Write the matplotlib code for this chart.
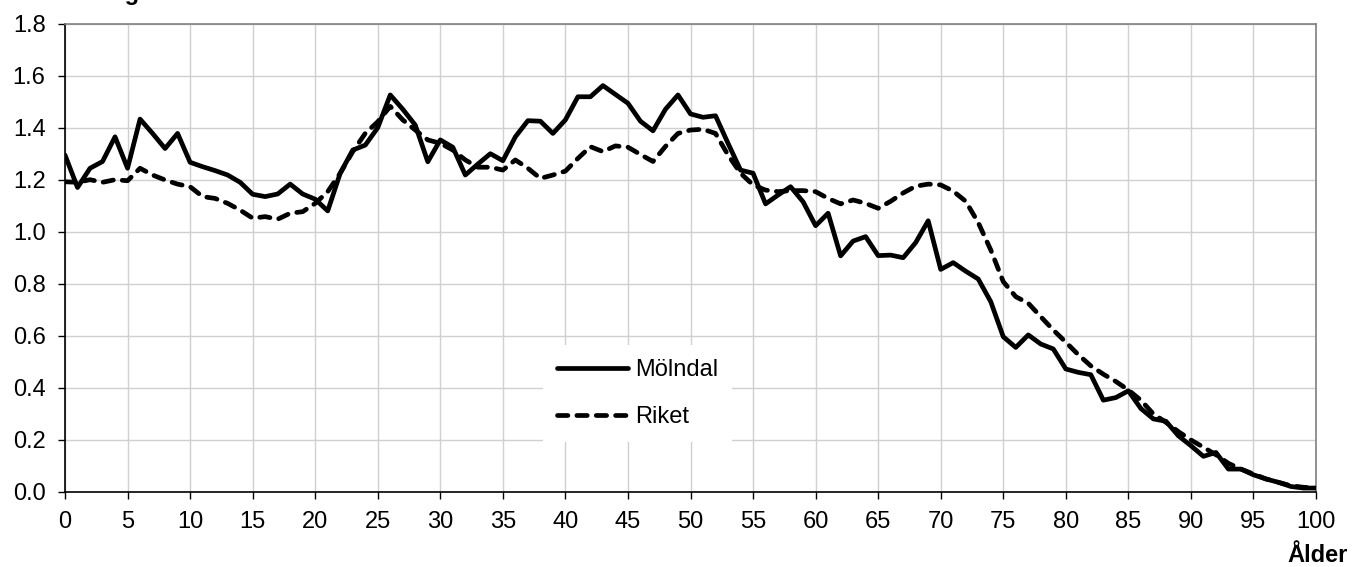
import numpy as np
import matplotlib.pyplot as plt
from matplotlib.ticker import FormatStrFormatter

plt.rcParams['font.family'] = ['Liberation Sans', 'DejaVu Sans']

ages = list(range(0, 101))

molndal = [
    1.295, 1.17, 1.244, 1.27, 1.365, 1.244, 1.433, 1.378, 1.32, 1.378,
    1.267, 1.25, 1.235, 1.218, 1.19, 1.144, 1.135, 1.145, 1.183, 1.145,
    1.125, 1.08, 1.225, 1.314, 1.333, 1.40, 1.526, 1.471, 1.41, 1.269,
    1.353, 1.325, 1.218, 1.26, 1.30, 1.273, 1.365, 1.427, 1.425, 1.378,
    1.43, 1.519, 1.519, 1.562, 1.528, 1.494, 1.425, 1.388, 1.471, 1.526,
    1.453, 1.44, 1.446, 1.34, 1.237, 1.225, 1.107, 1.141, 1.173, 1.115,
    1.023, 1.071, 0.907, 0.964, 0.981, 0.908, 0.91, 0.90, 0.958, 1.042,
    0.855, 0.881, 0.848, 0.818, 0.731, 0.596, 0.555, 0.603, 0.568, 0.549,
    0.472, 0.459, 0.45, 0.352, 0.362, 0.388, 0.32, 0.28, 0.271, 0.215,
    0.177, 0.136, 0.151, 0.087, 0.087, 0.065, 0.049, 0.036, 0.02, 0.014,
    0.014,
]

riket = [
    1.192, 1.19, 1.20, 1.19, 1.20, 1.196, 1.244, 1.218, 1.199, 1.183,
    1.173, 1.135, 1.128, 1.109, 1.083, 1.052, 1.058, 1.048, 1.071, 1.077,
    1.109, 1.154, 1.225, 1.308, 1.378, 1.423, 1.482, 1.43, 1.391, 1.353,
    1.34, 1.314, 1.276, 1.248, 1.248, 1.237, 1.276, 1.244, 1.205, 1.218,
    1.233, 1.282, 1.327, 1.308, 1.33, 1.325, 1.297, 1.27, 1.328, 1.378,
    1.391, 1.394, 1.378, 1.295, 1.225, 1.18, 1.16, 1.154, 1.158, 1.158,
    1.154, 1.128, 1.107, 1.122, 1.109, 1.09, 1.117, 1.149, 1.175, 1.183,
    1.18, 1.156, 1.117, 1.035, 0.93, 0.808, 0.75, 0.725, 0.673, 0.622,
    0.575, 0.527, 0.484, 0.452, 0.424, 0.391, 0.352, 0.299, 0.267, 0.231,
    0.199, 0.171, 0.142, 0.109, 0.087, 0.068, 0.049, 0.036, 0.023, 0.017,
    0.014,
]

fig = plt.figure(figsize=(13.52, 5.67), dpi=100)
ax = fig.add_axes([65 / 1352, 1 - 491.7 / 567, (1316 - 65) / 1352, (491.7 - 23.7) / 567])

ax.plot(ages, molndal, color='black', lw=3.4, label='Mölndal',
        solid_capstyle='round', solid_joinstyle='round', zorder=3)
ax.plot(ages, riket, color='black', lw=3.4, label='Riket', dashes=(2.2, 1.9),
        dash_capstyle='round', dash_joinstyle='round', zorder=3)

ax.set_xlim(0, 100)
ax.set_ylim(0, 1.8)
ax.set_xticks(range(0, 101, 5))
ax.set_yticks(np.arange(0, 1.81, 0.2))
ax.yaxis.set_major_formatter(FormatStrFormatter('%.1f'))
ax.grid(True, color='#d0d0d0', lw=1)
ax.set_axisbelow(True)
ax.tick_params(direction='out', length=5, width=1, color='black', labelsize=17,
               pad=9)

ax.spines['left'].set_color('black')
ax.spines['bottom'].set_color('black')
ax.spines['top'].set_color('#808080')
ax.spines['right'].set_color('#808080')
for s in ax.spines.values():
    s.set_linewidth(1.2)

leg = ax.legend(loc='upper left', bbox_to_anchor=(543 / 1352, 1 - 345 / 567),
                bbox_transform=fig.transFigure, fontsize=17, frameon=True,
                fancybox=False, edgecolor='none', framealpha=1,
                handlelength=3.0, handletextpad=0.3, labelspacing=1.05,
                borderpad=0.6, borderaxespad=0)

fig.text(0.997, 1 - 556 / 567, 'Ålder', ha='right', va='center', fontsize=17,
         fontweight='bold')
fig.text(0.013, 1.0, 'Fördelning', ha='left', va='baseline', fontsize=17,
         fontweight='bold')

fig.savefig('out.png', dpi=100)
